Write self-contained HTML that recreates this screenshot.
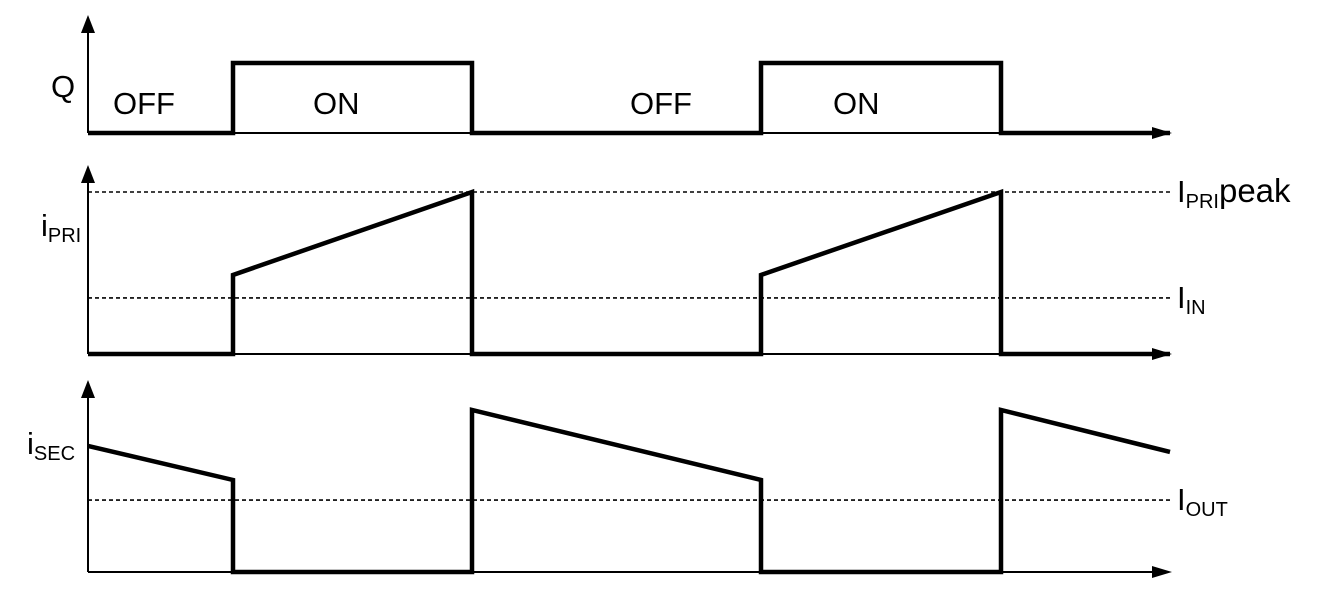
<!DOCTYPE html>
<html><head><meta charset="utf-8"><style>
html,body{margin:0;padding:0;background:#fff;}
svg{display:block;font-family:"Liberation Sans",Arial,sans-serif;}
</style></head><body>
<svg id="chart" width="1320" height="609" viewBox="0 0 1320 609"></svg>
<script>
// time axis (arbitrary units, edges of switching)
const qTimes = [0, 145, 384, 673, 913, 1082];
const qStates = ["OFF", "ON", "OFF", "ON", "OFF"];
const qLabels = ["OFF", "ON", "OFF", "ON"];
// primary current (normalized to peak): [t, value]
const priPoints = [[0,0],[145,0],[145,0.488],[384,1.0],[384,0],[673,0],[673,0.488],[913,1.0],[913,0],[1082,0]];
const priRefs = [1.0, 0.346];
const priRefLabels = [["I","PRI","peak"],["I","IN",""]];
// secondary current
const secPoints = [[0,0.778],[145,0.568],[145,0],[384,0],[384,1.0],[673,0.568],[673,0],[913,0],[913,1.0],[1082,0.741]];
const secRefs = [0.444];
const secRefLabels = [["I","OUT",""]];

const NS = "http://www.w3.org/2000/svg";
const svg = document.getElementById("chart");
const X0 = 88;
const FS = 31, SFS = 20;
function xs(t){ return X0 + t; }
function mk(tag, attrs, parent){
  const e = document.createElementNS(NS, tag);
  for (const k in attrs) e.setAttribute(k, attrs[k]);
  (parent||svg).appendChild(e);
  return e;
}
function panel(name, top, base){
  const g = mk("g", {});
  
  
  const ya = mk("line", {x1:X0, y1:base, x2:X0, y2:top+14, stroke:"#000", "stroke-width":2}, g);
  
  
  const yh = mk("polygon", {points:`${X0-7},${top+18} ${X0+7},${top+18} ${X0},${top}`, fill:"#000"}, g);
  
  
  const xa = mk("line", {x1:X0, y1:base, x2:1155, y2:base, stroke:"#000", "stroke-width":2}, g);
  
  
  const xh = mk("polygon", {points:`1152,${base-6} 1152,${base+6} 1172,${base}`, fill:"#000"}, g);
  
  
  return g;
}
function refLine(g, name, y, lab){
  const l = mk("line", {x1:X0, y1:y, x2:1170, y2:y, stroke:"#000", "stroke-width":1.6, "stroke-dasharray":"4,3"}, g);
  
  
  const t = mk("text", {x:1177, y:y+10, "font-size":FS}, g);
  
  
  t.appendChild(document.createTextNode(lab[0]));
  const s = mk("tspan", {"font-size":SFS, dy:6}, t); s.textContent = lab[1];
  if (lab[2]) { const p = mk("tspan", {dy:-6, "font-size":33}, t); p.textContent = lab[2]; }
}
function wave(g, name, pts, base, scale){
  const d = pts.map((p,i)=>(i?"L":"M")+xs(p[0])+","+(base - p[1]*scale)).join(" ");
  const w = mk("path", {d, fill:"none", stroke:"#000", "stroke-width":4.5, "stroke-linejoin":"miter"}, g);
  
  
}
function label(g, name, x, y, main, sub){
  const t = mk("text", {x, y, "font-size":FS}, g);
  
  
  t.appendChild(document.createTextNode(main));
  if (sub){ const s = mk("tspan", {"font-size":SFS, dy:6}, t); s.textContent = sub; }
}

// Q panel
const qBase = 133, qHigh = 63;
const gq = panel("q", 15, qBase);
let qd = "";
qStates.forEach((s,i)=>{
  const y = s==="ON" ? qHigh : qBase;
  qd += (i? "L":"M") + xs(qTimes[i]) + "," + y + " L" + xs(qTimes[i+1]) + "," + y + " ";
});
const qw = mk("path", {d:qd, fill:"none", stroke:"#000", "stroke-width":4.5}, gq);


label(gq, "q-axis-label", 51, 97, "Q");
const qLabelX = [113, 313, 630, 833];
qLabels.forEach((s,i)=>{
  const t = mk("text", {x: qLabelX[i], y:114, "font-size":FS}, gq);
  
  
  t.textContent = s;
});

// iPRI panel
const pBase = 354, pScale = 162;
const gp = panel("i-pri", 165, pBase);
priRefs.forEach((v,i)=>refLine(gp, "i-pri", pBase - v*pScale, priRefLabels[i]));
wave(gp, "i-pri", priPoints, pBase, pScale);
label(gp, "i-pri-axis-label", 41, 236, "i", "PRI");

// iSEC panel
const sBase = 572, sScale = 162;
const gs = panel("i-sec", 380, sBase);
secRefs.forEach((v,i)=>refLine(gs, "i-sec", sBase - v*sScale, secRefLabels[i]));
wave(gs, "i-sec", secPoints, sBase, sScale);
label(gs, "i-sec-axis-label", 27, 454, "i", "SEC");
</script>
</body></html>
